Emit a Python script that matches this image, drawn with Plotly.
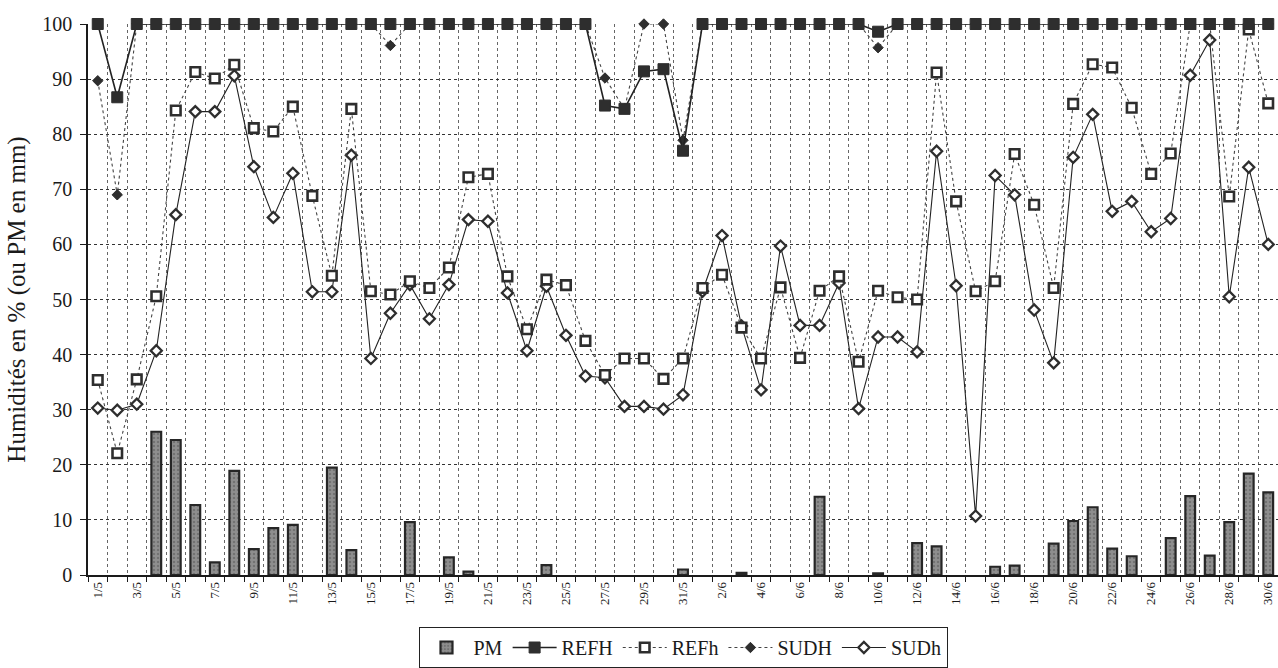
import plotly.graph_objects as go

dates = [f"{d}/5" for d in range(1, 32)] + [f"{d}/6" for d in range(1, 31)]

PM = [0, 0, 0, 26.0, 24.5, 12.7, 2.3, 18.9, 4.7, 8.5, 9.1, 0, 19.5, 4.5, 0, 0, 9.6, 0, 3.2, 0.6,
      0, 0, 0, 1.8, 0, 0, 0, 0, 0, 0, 1.0, 0, 0, 0.4, 0, 0, 0, 14.2, 0, 0,
      0.3, 0, 5.8, 5.2, 0, 0, 1.5, 1.7, 0, 5.7, 9.8, 12.3, 4.8, 3.4, 0, 6.7, 14.3, 3.5, 9.6, 18.4,
      15.0]

REFH = [100, 86.7, 100, 100, 100, 100, 100, 100, 100, 100, 100, 100, 100, 100, 100, 100, 100, 100, 100, 100,
        100, 100, 100, 100, 100, 100, 85.2, 84.6, 91.4, 91.8, 77.0, 100, 100, 100, 100, 100, 100, 100, 100, 100,
        98.6, 100, 100, 100, 100, 100, 100, 100, 100, 100, 100, 100, 100, 100, 100, 100, 100, 100, 100, 100,
        100]

REFh = [35.4, 22.1, 35.5, 50.6, 84.3, 91.3, 90.1, 92.6, 81.1, 80.5, 85.0, 68.8, 54.3, 84.6, 51.5, 50.9, 53.3, 52.1, 55.8, 72.2,
        72.8, 54.2, 44.6, 53.6, 52.6, 42.5, 36.3, 39.3, 39.3, 35.6, 39.3, 52.1, 54.5, 44.9, 39.3, 52.2, 39.4, 51.6, 54.2, 38.7,
        51.6, 50.4, 50.0, 91.2, 67.8, 51.5, 53.3, 76.4, 67.2, 52.1, 85.5, 92.7, 92.1, 84.8, 72.8, 76.5, 100, 100, 68.7, 99.0,
        85.6]

SUDH = [89.7, 69.0, 100, 100, 100, 100, 100, 100, 100, 100, 100, 100, 100, 100, 100, 96.1, 100, 100, 100, 100,
        100, 100, 100, 100, 100, 100, 90.2, 84.6, 100, 100, 78.9, 100, 100, 100, 100, 100, 100, 100, 100, 100,
        95.7, 100, 100, 100, 100, 100, 100, 100, 100, 100, 100, 100, 100, 100, 100, 100, 100, 100, 100, 100,
        100]

SUDh = [30.3, 29.9, 31.0, 40.7, 65.4, 84.1, 84.1, 90.6, 74.1, 64.9, 72.9, 51.4, 51.4, 76.2, 39.3, 47.5, 52.7, 46.5, 52.7, 64.5,
        64.2, 51.2, 40.7, 52.4, 43.5, 36.1, 35.8, 30.6, 30.6, 30.1, 32.7, 51.5, 61.6, 45.2, 33.6, 59.7, 45.3, 45.3, 53.0, 30.2,
        43.2, 43.2, 40.5, 76.9, 52.5, 10.7, 72.5, 69.0, 48.1, 38.5, 75.8, 83.6, 66.0, 67.8, 62.3, 64.7, 90.7, 97.1, 50.5, 74.0,
        60.0]

y_ticks = [0, 10, 20, 30, 40, 50, 60, 70, 80, 90, 100]

xi = list(range(len(dates)))
FONT = "Liberation Serif, Times New Roman, serif"
DARK = "#2e2e2e"

fig = go.Figure()
fig.add_trace(go.Bar(x=xi, y=[v if v > 0 else None for v in PM], name="PM", width=0.5, legendrank=1,
                     marker=dict(color="#8e8e8e", line=dict(color="#262626", width=2.2),
                                 pattern=dict(shape=".", fgcolor="#555555", size=4, solidity=0.3))))
fig.add_trace(go.Scatter(x=xi, y=SUDH, name="SUDH", mode="lines+markers", cliponaxis=False, legendrank=4,
                         line=dict(color="#444444", width=1.1, dash="dot"),
                         marker=dict(symbol="diamond", size=8, color=DARK, line=dict(color=DARK, width=1))))
fig.add_trace(go.Scatter(x=xi, y=SUDh, name="SUDh", mode="lines+markers", cliponaxis=False, legendrank=5,
                         line=dict(color="#222222", width=1.1),
                         marker=dict(symbol="diamond", size=8.5, color="white", line=dict(color=DARK, width=2.3))))
fig.add_trace(go.Scatter(x=xi, y=REFh, name="REFh", mode="lines+markers", cliponaxis=False, legendrank=3,
                         line=dict(color="#444444", width=1.1, dash="dot"),
                         marker=dict(symbol="square", size=9.5, color="white", line=dict(color=DARK, width=2.6))))
fig.add_trace(go.Scatter(x=xi, y=REFH, name="REFH", mode="lines+markers", cliponaxis=False, legendrank=2,
                         line=dict(color="#222222", width=1.6),
                         marker=dict(symbol="square", size=11, color=DARK, line=dict(color=DARK, width=1))))

fig.update_layout(
    width=1278, height=668,
    margin=dict(l=88, r=0, t=24, b=87),
    paper_bgcolor="white", plot_bgcolor="white",
    font=dict(family=FONT, color="#1a1a1a"),
    showlegend=True,
    legend=dict(orientation="h", x=0.5, xanchor="center", y=-0.095, yanchor="top",
                bordercolor="#222222", borderwidth=1, font=dict(family=FONT, size=20, color="#1a1a1a"),
                itemwidth=44, tracegroupgap=0, traceorder="normal"),
)

fig.update_xaxes(
    range=[-0.5, len(dates) - 0.5],
    tickmode="array", tickvals=xi[::2], ticktext=dates[::2],
    tickangle=-90, tickfont=dict(family=FONT, size=13, color="#1a1a1a"),
    ticks="", showgrid=False, zeroline=False,
    showline=True, linecolor="#1a1a1a", linewidth=1.5,
    minor=dict(tickmode="array", tickvals=[i - 0.5 for i in range(len(dates) + 1)],
               ticks="outside", ticklen=5, tickcolor="#1a1a1a", tickwidth=1,
               showgrid=True, gridcolor="#666666", griddash="dot", gridwidth=1),
)

fig.update_yaxes(
    range=[0, 100],
    tickmode="array", tickvals=y_ticks,
    tickfont=dict(family=FONT, size=20, color="#1a1a1a"),
    ticks="outside", ticklen=6, tickcolor="#1a1a1a", ticklabelstandoff=4,
    showgrid=True, gridcolor="#333333", griddash="dot", gridwidth=1.2,
    zeroline=False, showline=True, linecolor="#1a1a1a", linewidth=1.5,
    title=dict(text="Humidités en % (ou PM en mm)", font=dict(family=FONT, size=25, color="#1a1a1a"), standoff=10),
)

fig.write_html("out.html")
